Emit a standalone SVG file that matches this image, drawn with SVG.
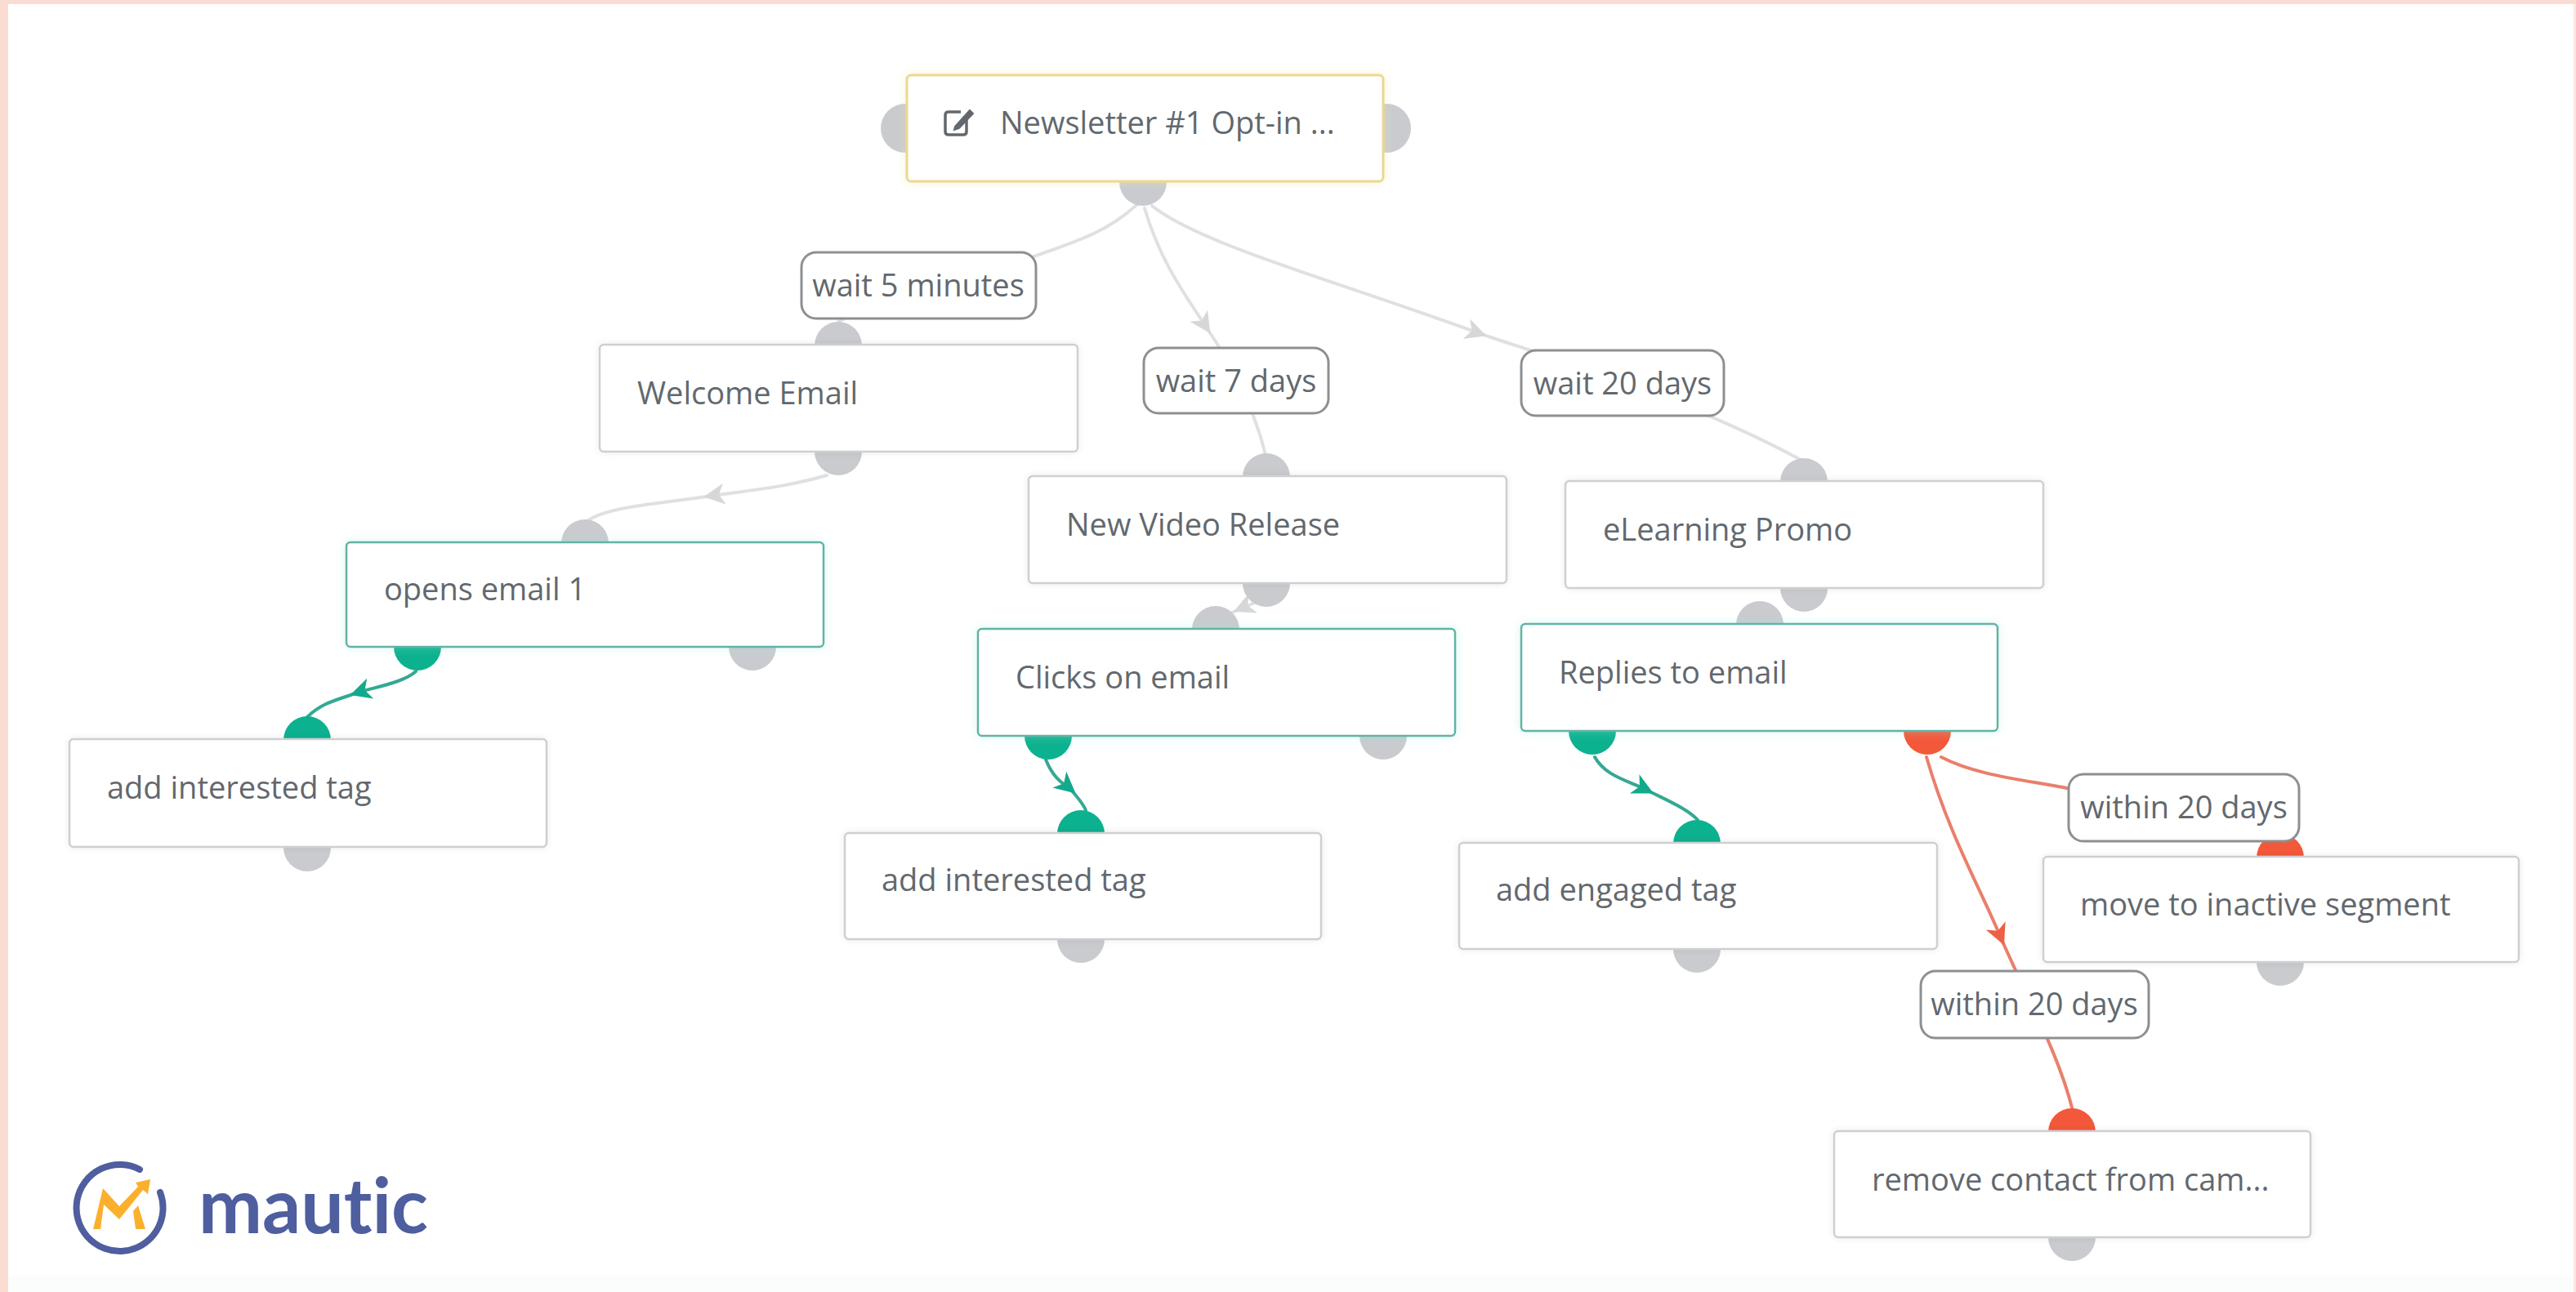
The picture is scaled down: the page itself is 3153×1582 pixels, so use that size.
<svg xmlns="http://www.w3.org/2000/svg" width="3153" height="1582" viewBox="0 0 3153 1582">
<defs>
<style>
text{font-family:"Open Sans","Noto Sans","Liberation Sans",sans-serif;font-size:38px;fill:#62686e}
.lb text{text-anchor:middle}
.n{fill:#fff;stroke:#cdcfd1;stroke-width:2.5;filter:url(#sh)}
.ng{fill:#fff;stroke:#62b3a5;stroke-width:2.5;filter:url(#sg)}
.ny{fill:#fff;stroke:#ecd98e;stroke-width:3;filter:url(#sy)}
.l{fill:#fff;stroke:#8d8f92;stroke-width:3}
.e{fill:#c9cbcf}.eg{fill:#0cb18f}.er{fill:#f4583a}
.c{fill:none;stroke-linecap:round}
.cw{stroke:#dfe0e1;stroke-width:4;marker-mid:url(#mw)}
.cn{stroke:#dfe0e1;stroke-width:4}
.cg{stroke:#35a893;stroke-width:4;marker-mid:url(#mg)}
.cr{stroke:#ea7f6b;stroke-width:4}
.crm{marker-mid:url(#mr)}
</style>
<filter id="sh" x="-5%" y="-15%" width="110%" height="130%"><feDropShadow dx="0" dy="0" stdDeviation="4" flood-color="#000" flood-opacity=".08"/></filter>
<filter id="sg" x="-5%" y="-15%" width="110%" height="130%"><feDropShadow dx="0" dy="0" stdDeviation="6" flood-color="#8fe8d8" flood-opacity=".35"/></filter>
<filter id="sy" x="-5%" y="-15%" width="110%" height="130%"><feDropShadow dx="0" dy="0" stdDeviation="6" flood-color="#f0e7a8" flood-opacity=".45"/></filter>
<marker id="mw" viewBox="-18 -15 30 30" markerUnits="userSpaceOnUse" markerWidth="30" markerHeight="30" orient="auto"><path d="M10 0L-16 -13L-9 0L-16 13Z" fill="#d6d7d9"/></marker>
<marker id="mg" viewBox="-18 -15 30 30" markerUnits="userSpaceOnUse" markerWidth="30" markerHeight="30" orient="auto"><path d="M10 0L-16 -13L-9 0L-16 13Z" fill="#12a98c"/></marker>
<marker id="mr" viewBox="-18 -15 30 30" markerUnits="userSpaceOnUse" markerWidth="30" markerHeight="30" orient="auto"><path d="M10 0L-16 -13L-9 0L-16 13Z" fill="#ee5f44"/></marker>
</defs>
<rect width="3153" height="1582" fill="#fff"/>
<g id="frame">
<path d="M0 0H3153V5H10V1582H0Z" fill="#fbdcd3"/>
<rect x="3150" y="5" width="3" height="1577" fill="#fbe6df"/>
<rect x="10" y="1562" width="3140" height="20" fill="#fafdfc"/>
</g>
<g id="connectors">
<path class="c cn" d="M1392 250C1350 290 1300 300 1250 320S1090 360 1026 394"/>
<path class="c cw" d="M1401 255C1420 320 1450 360 1476 400C1510 450 1535 500 1550 560"/>
<path class="c cw" d="M1410 252C1470 300 1640 345 1810 408C1920 445 2070 490 2208 565"/>
<path class="c cw" d="M1012 582C960 597 920 600 871 607C800 618 740 620 716 640"/>
<path class="c cw" d="M1536 738L1519 745L1500 754"/>
<path class="c cg" d="M509 822C495 835 465 840 438 848C410 858 395 860 376 878"/>
<path class="c cg" d="M1280 930C1288 950 1298 958 1309 965C1318 975 1326 985 1329 992"/>
<path class="c cg" d="M1952 927C1965 950 1990 955 2015 967C2040 980 2065 990 2078 1004"/>
<path class="c cr" d="M2376 927C2420 950 2480 955 2535 966C2650 990 2750 1000 2791 1022"/>
<path class="c cr crm" d="M2358 927C2385 1020 2420 1080 2449 1148C2480 1220 2520 1290 2537 1360"/>
</g>
<g id="n-newsletter">
<circle class="e" cx="1108" cy="157" r="30"/><circle class="e" cx="1697" cy="157" r="30"/><circle class="e" cx="1399" cy="223" r="29"/>
<rect class="ny" x="1110" y="92" width="583" height="130" rx="5"/>
<g fill="none" stroke="#62686e" stroke-width="3.5"><path d="M1183 144V161Q1183 165 1179 165H1161Q1157 165 1157 161V141Q1157 137 1161 137H1176"/><path d="M1169 155L1187 135L1191 139L1174 157L1168 159Z" fill="#62686e" stroke-width="2"/></g>
<text x="1224" y="164">Newsletter #1 Opt-in ...</text>
</g>
<g id="n-welcome">
<circle class="e" cx="1026" cy="423" r="29"/><circle class="e" cx="1026" cy="553" r="29"/>
<rect class="n" x="734" y="422" width="585" height="131" rx="5"/>
<text x="780" y="495">Welcome Email</text>
</g>
<g id="n-video">
<circle class="e" cx="1550" cy="584" r="29"/><circle class="e" cx="1550" cy="714" r="29"/>
<rect class="n" x="1259" y="583" width="585" height="131" rx="5"/>
<text x="1305" y="656">New Video Release</text>
</g>
<g id="n-elearning">
<circle class="e" cx="2208" cy="590" r="29"/><circle class="e" cx="2208" cy="720" r="29"/>
<rect class="n" x="1916" y="589" width="585" height="131" rx="5"/>
<text x="1962" y="662">eLearning Promo</text>
</g>
<g id="n-opens">
<circle class="e" cx="716" cy="665" r="29"/><circle class="eg" cx="511" cy="792" r="29"/><circle class="e" cx="921" cy="792" r="29"/>
<rect class="ng" x="424" y="664" width="584" height="128" rx="5"/>
<text x="470" y="735">opens email 1</text>
</g>
<g id="n-clicks">
<circle class="e" cx="1488" cy="771" r="29"/><circle class="eg" cx="1283" cy="901" r="29"/><circle class="e" cx="1693" cy="901" r="29"/>
<rect class="ng" x="1197" y="770" width="584" height="131" rx="5"/>
<text x="1243" y="843">Clicks on email</text>
</g>
<g id="n-replies">
<circle class="e" cx="2154" cy="765" r="29"/><circle class="eg" cx="1949" cy="895" r="29"/><circle class="er" cx="2359" cy="895" r="29"/>
<rect class="ng" x="1862" y="764" width="583" height="131" rx="5"/>
<text x="1908" y="837">Replies to email</text>
</g>
<g id="n-tag1">
<circle class="eg" cx="376" cy="906" r="29"/><circle class="e" cx="376" cy="1038" r="29"/>
<rect class="n" x="85" y="905" width="584" height="132" rx="5"/>
<text x="131" y="978">add interested tag</text>
</g>
<g id="n-tag2">
<circle class="eg" cx="1323" cy="1021" r="29"/><circle class="e" cx="1323" cy="1150" r="29"/>
<rect class="n" x="1034" y="1020" width="583" height="130" rx="5"/>
<text x="1079" y="1091">add interested tag</text>
</g>
<g id="n-engaged">
<circle class="eg" cx="2077" cy="1033" r="29"/><circle class="e" cx="2077" cy="1162" r="29"/>
<rect class="n" x="1786" y="1032" width="585" height="130" rx="5"/>
<text x="1831" y="1103">add engaged tag</text>
</g>
<g id="n-move">
<circle class="er" cx="2791" cy="1050" r="29"/><circle class="e" cx="2791" cy="1178" r="29"/>
<rect class="n" x="2501" y="1049" width="582" height="129" rx="5"/>
<text x="2546" y="1121">move to inactive segment</text>
</g>
<g id="n-remove">
<circle class="er" cx="2536" cy="1386" r="29"/><circle class="e" cx="2536" cy="1515" r="29"/>
<rect class="n" x="2245" y="1385" width="583" height="130" rx="5"/>
<text x="2291" y="1458">remove contact from cam...</text>
</g>
<g id="labels" class="lb">
<g id="l-wait5"><rect class="l" x="981" y="309" width="287" height="81" rx="18"/><text x="1124" y="363">wait 5 minutes</text></g>
<g id="l-wait7"><rect class="l" x="1400" y="426" width="226" height="80" rx="18"/><text x="1513" y="480">wait 7 days</text></g>
<g id="l-wait20"><rect class="l" x="1862" y="429" width="248" height="80" rx="18"/><text x="1986" y="483">wait 20 days</text></g>
<g id="l-within1"><rect class="l" x="2532" y="948" width="282" height="82" rx="18"/><text x="2673" y="1002">within 20 days</text></g>
<g id="l-within2"><rect class="l" x="2351" y="1189" width="279" height="82" rx="18"/><text x="2490" y="1243">within 20 days</text></g>
</g>
<g id="logo">
<path d="M171 1432A53 53 0 1 0 196 1460" fill="none" stroke="#4e5e9f" stroke-width="8" stroke-linecap="round"/>
<path d="M114 1505L126 1455L146 1477L169 1453L166 1448L184 1444L181 1462L175 1457L146 1493L127 1475L123 1505Z" fill="#fbb02d"/>
<path d="M163 1483L169 1476L178 1505H166Z" fill="#fbb02d"/>
<text x="243" y="1510" textLength="281" lengthAdjust="spacingAndGlyphs" style="font-family:Lato,'Open Sans',sans-serif;font-size:94px;font-weight:700;fill:#4e5e9f;font-variant-ligatures:none">mautic</text>
</g>
</svg>
